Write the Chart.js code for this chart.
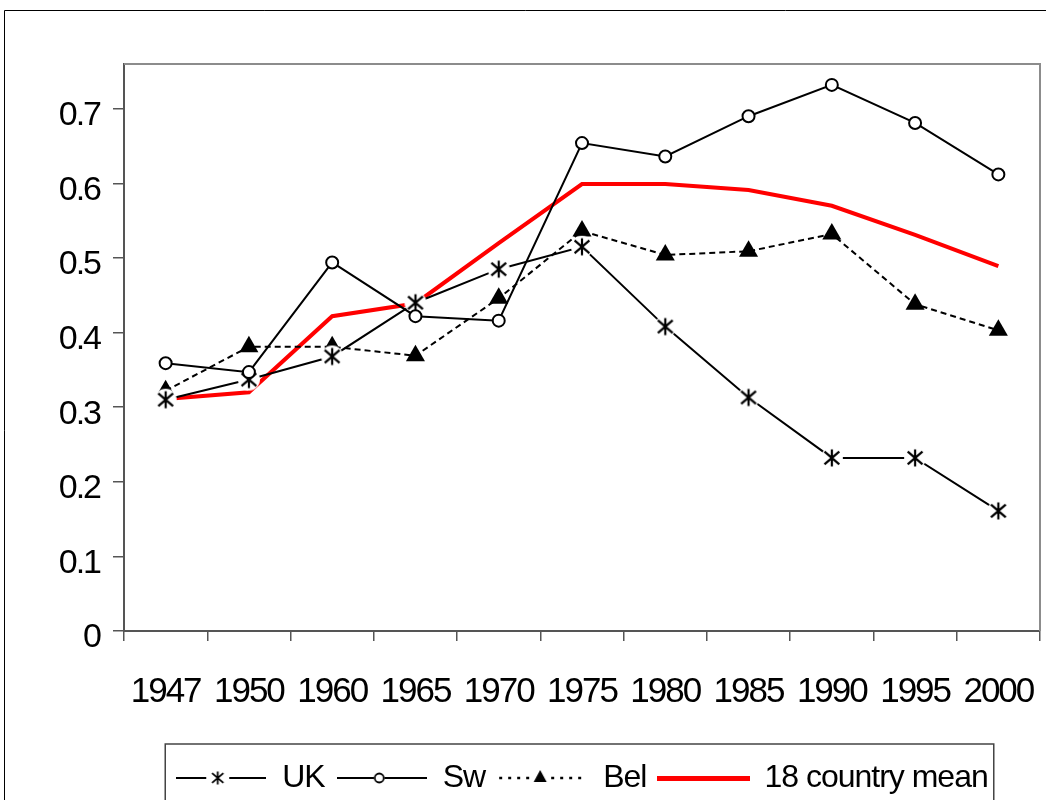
<!DOCTYPE html>
<html>
<head>
<meta charset="utf-8">
<script src="https://cdn.jsdelivr.net/npm/chart.js@4.4.1/dist/chart.umd.min.js"></script>
<style>
  html, body { margin: 0; padding: 0; background: #fff; overflow: hidden; }
  #wrap { width: 1046px; height: 800px; overflow: hidden; }
  canvas { display: block; }
</style>
</head>
<body>
<div id="wrap"><canvas id="c" width="1046" height="850"></canvas></div>
<script>
// ---- data ----
const years = ['1947', '1950', '1960', '1965', '1970', '1975', '1980', '1985', '1990', '1995', '2000'];
const ukValues   = [0.310, 0.337, 0.368, 0.440, 0.485, 0.515, 0.408, 0.313, 0.232, 0.232, 0.161];
const swValues   = [0.359, 0.347, 0.494, 0.422, 0.416, 0.654, 0.636, 0.690, 0.732, 0.681, 0.612];
const belValues  = [0.322, 0.381, 0.381, 0.369, 0.446, 0.536, 0.504, 0.509, 0.532, 0.438, 0.403];
const meanValues = [0.311, 0.320, 0.422, 0.439, 0.520, 0.599, 0.599, 0.591, 0.570, 0.531, 0.489];
const seriesNames = ['UK', 'Sw', 'Bel', '18 country mean'];
const yMin = 0, yMax = 0.76, yStep = 0.1;

const FONT = "'Liberation Sans', Arial, sans-serif";

// ---- marker images ----
function mk(w, h, fn) {
  const cv = document.createElement('canvas');
  cv.width = w; cv.height = h;
  const g = cv.getContext('2d');
  fn(g, w, h);
  return cv;
}
function drawStar(g, cx, cy, s) {
  g.beginPath();
  g.moveTo(cx, cy - s); g.lineTo(cx, cy + s);
  g.moveTo(cx - s * 0.87, cy - s * 0.75); g.lineTo(cx + s * 0.87, cy + s * 0.75);
  g.moveTo(cx + s * 0.87, cy - s * 0.75); g.lineTo(cx - s * 0.87, cy + s * 0.75);
  g.stroke();
}
const starMarker = mk(26, 26, (g) => {
  g.fillStyle = '#fff';
  g.beginPath(); g.arc(13, 13, 11, 0, Math.PI * 2); g.fill();
  g.strokeStyle = '#000'; g.lineWidth = 2.2;
  drawStar(g, 13, 13, 8.5);
});

// legend samples
const legUK = mk(90, 24, (g) => {
  g.strokeStyle = '#000'; g.lineWidth = 2;
  g.beginPath(); g.moveTo(0, 12); g.lineTo(30, 12); g.moveTo(53, 12); g.lineTo(90, 12); g.stroke();
  g.lineWidth = 1.8; drawStar(g, 41.5, 12, 6.5);
});
const legSw = mk(90, 24, (g) => {
  g.strokeStyle = '#000'; g.lineWidth = 2;
  g.beginPath(); g.moveTo(0, 12); g.lineTo(37, 12); g.moveTo(48, 12); g.lineTo(90, 12); g.stroke();
  g.fillStyle = '#fff'; g.lineWidth = 1.8;
  g.beginPath(); g.arc(42.5, 12, 4.5, 0, Math.PI * 2); g.fill(); g.stroke();
});
const legBel = mk(90, 24, (g) => {
  g.strokeStyle = '#000'; g.lineWidth = 2.5;
  g.setLineDash([3, 6]);
  g.beginPath(); g.moveTo(2, 12); g.lineTo(34, 12); g.moveTo(54, 12); g.lineTo(90, 12); g.stroke();
  g.setLineDash([]);
  g.fillStyle = '#000';
  g.beginPath(); g.moveTo(43, 4); g.lineTo(49.5, 16); g.lineTo(36.5, 16); g.closePath(); g.fill();
});
const legMean = mk(93, 24, (g) => {
  g.fillStyle = '#ff0000';
  g.fillRect(0, 10, 93, 5);
});
const legendSamples = [legUK, legSw, legBel, legMean];

// ---- plugins ----
const W = 1046, H = 850;
const framePlugin = {
  id: 'frame',
  afterInit(chart) {
    const lg = chart.legend;
    ['fit', 'draw'].forEach((m) => {
      const orig = lg[m];
      lg[m] = function (...a) {
        const c = this.ctx; const prev = c.letterSpacing;
        c.letterSpacing = '-1px';
        const r = orig.apply(this, a);
        c.letterSpacing = prev;
        return r;
      };
    });
  },
  beforeUpdate(chart) { chart.ctx.letterSpacing = '-2px'; },
  beforeLayout(chart) { chart.ctx.letterSpacing = '-2px'; },
  beforeDraw(chart) {
    const c = chart.ctx;
    c.letterSpacing = '-2px';
    c.save();
    c.fillStyle = '#fff'; c.fillRect(0, 0, W, H);
    c.strokeStyle = '#000'; c.lineWidth = 1;
    c.beginPath(); c.moveTo(4.5, H); c.lineTo(4.5, 10.5); c.lineTo(W, 10.5); c.stroke();
    c.restore();
  },
  beforeDatasetsDraw(chart) {
    const c = chart.ctx, a = chart.chartArea;
    c.save();
    c.strokeStyle = '#8c8c8c'; c.lineWidth = 2;
    c.beginPath(); c.moveTo(a.left, a.top); c.lineTo(a.right, a.top); c.lineTo(a.right, a.bottom); c.stroke();
    c.restore();
  },
  afterDraw(chart) {
    const lg = chart.legend;
    if (!lg || !lg.legendHitBoxes || !lg.legendHitBoxes.length) return;
    const hb = lg.legendHitBoxes;
    const first = hb[0], last = hb[hb.length - 1];
    const cy = first.top + first.height / 2;
    const c = chart.ctx;
    c.save();
    c.strokeStyle = '#444'; c.lineWidth = 1.5;
    c.strokeRect(first.left - 11, cy - 34, (last.left + last.width + 6) - (first.left - 11), 80);
    c.restore();
  }
};

const chart = new Chart(document.getElementById('c'), {
  type: 'line',
  data: {
    labels: years,
    datasets: [
      { label: seriesNames[1], data: swValues, borderColor: '#000', borderWidth: 2, pointStyle: 'circle',
        pointRadius: 6, pointBorderWidth: 2, pointBackgroundColor: '#fff', pointBorderColor: '#000', tension: 0 },
      { label: seriesNames[0], data: ukValues, borderColor: '#000', borderWidth: 2, pointStyle: starMarker,
        pointRadius: 7, tension: 0 },
      { label: seriesNames[2], data: belValues, borderColor: '#000', borderWidth: 2, borderDash: [6, 4],
        pointStyle: 'triangle', pointRadius: 11, pointBackgroundColor: '#000', pointBorderColor: '#000',
        pointBorderWidth: 0, tension: 0 },
      { label: seriesNames[3], data: meanValues, borderColor: '#ff0000', borderWidth: 4, pointRadius: 0, tension: 0 }
    ]
  },
  options: {
    responsive: false,
    animation: false,
    devicePixelRatio: 1,
    events: [],
    layout: { autoPadding: false, padding: { left: 0, top: 64, right: 6, bottom: 46 } },
    scales: {
      x: {
        type: 'category',
        offset: true,
        grid: { offset: true, drawOnChartArea: false, drawTicks: true, tickLength: 10, color: '#555', lineWidth: 1.5 },
        border: { display: true, color: '#555', width: 2 },
        ticks: { color: '#000', font: { family: FONT, size: 35 }, padding: 30, maxRotation: 0, minRotation: 0, autoSkip: false },
        afterFit(s) { s.height = 119; s.paddingLeft = 0; s.paddingRight = 0; }
      },
      y: {
        min: yMin, max: yMax,
        grid: { drawOnChartArea: false, drawTicks: true, tickLength: 11, color: '#555', lineWidth: 1.5 },
        border: { display: true, color: '#555', width: 2 },
        ticks: { stepSize: yStep, color: '#000', font: { family: FONT, size: 34 }, padding: 13, labelOffset: 7,
                 callback: (v) => (Math.round(v * 10) / 10).toString() },
        afterBuildTicks(s) {
          s.ticks = s.ticks.filter((t) => Math.abs(t.value * 10 - Math.round(t.value * 10)) < 1e-6);
        },
        afterFit(s) { s.width = 124; s.paddingTop = 0; s.paddingBottom = 0; }
      }
    },
    plugins: {
      tooltip: { enabled: false },
      legend: {
        position: 'bottom',
        fullSize: false,
        labels: {
          usePointStyle: true,
          pointStyleWidth: 90,
          padding: 12,
          color: '#000',
          font: { family: FONT, size: 32 },
          generateLabels(ch) {
            const order = [1, 0, 2, 3];
            return order.map((di, i) => ({
              text: ch.data.datasets[di].label,
              pointStyle: legendSamples[i],
              fillStyle: 'transparent', strokeStyle: 'transparent', lineWidth: 0,
              fontColor: '#000', hidden: false, datasetIndex: di
            }));
          }
        }
      }
    }
  },
  plugins: [framePlugin]
});
</script>
</body>
</html>
